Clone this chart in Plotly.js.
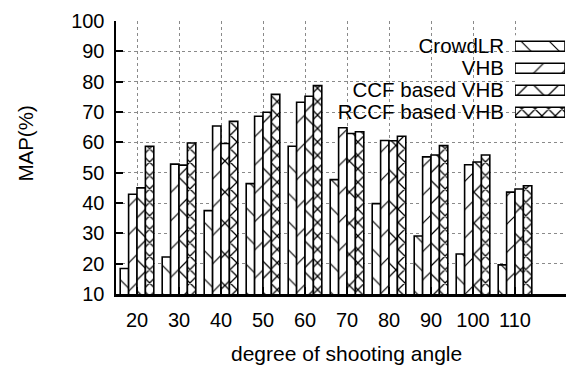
<!DOCTYPE html>
<html>
<head>
<meta charset="utf-8">
<script src="https://cdn.plot.ly/plotly-3.0.1.min.js"></script>
<style>html,body{margin:0;padding:0;background:#fff;}#chart{width:566px;height:370px;}</style>
</head>
<body>
<div id="chart"></div>
<script>
// Data
var angles = [20, 30, 40, 50, 60, 70, 80, 90, 100, 110];
var seriesNames = ["CrowdLR", "VHB", "CCF based VHB", "RCCF based VHB"];
var crowdLR = [18.4, 22.2, 37.5, 46.4, 58.7, 47.7, 39.8, 29.1, 23.2, 19.6];
var vhb     = [42.9, 52.8, 65.4, 68.6, 73.2, 64.8, 60.6, 55.2, 52.6, 43.6];
var ccfVhb  = [45.0, 52.5, 59.6, 69.9, 75.2, 62.9, 60.5, 55.8, 53.5, 44.6];
var rccfVhb = [58.7, 59.8, 66.9, 75.8, 78.7, 63.5, 62.0, 58.9, 55.8, 45.7];
var yTicks = [10, 20, 30, 40, 50, 60, 70, 80, 90, 100];
var xTitle = "degree of shooting angle";
var yTitle = "MAP(%)";

var seriesValues = [crowdLR, vhb, ccfVhb, rccfVhb];
var patShapes = ["\\", "/", "x", "x"];
var patSizes = [20, 20, 22, 9.5];
var patSolid = [0.06, 0.06, 0.11, 0.25];

var FONT = "Liberation Sans, Arial, Helvetica, sans-serif";

var traces = seriesValues.map(function (vals, i) {
  return {
    type: "bar",
    x: angles,
    y: vals,
    name: seriesNames[i],
    showlegend: false,
    marker: {
      color: "white",
      line: { color: "black", width: 1.6 },
      pattern: { shape: patShapes[i], size: patSizes[i], solidity: patSolid[i], fgcolor: "black", bgcolor: "white", fgopacity: 1 }
    },
    hoverinfo: "skip"
  };
});

// legend swatches drawn as a small horizontal bar chart
traces.push({
  type: "bar",
  orientation: "h",
  xaxis: "x3",
  yaxis: "y3",
  y: seriesNames,
  x: seriesNames.map(function () { return 1; }),
  width: 0.455,
  showlegend: false,
  hoverinfo: "skip",
  marker: {
    color: "white",
    line: { color: "black", width: 1.6 },
    pattern: { shape: patShapes, size: patSizes, solidity: patSolid, fgcolor: "black", bgcolor: "white", fgopacity: 1 }
  }
});

var layout = {
  width: 566,
  height: 370,
  margin: { l: 116, r: 0, t: 21, b: 76, pad: 0 },
  paper_bgcolor: "white",
  plot_bgcolor: "white",
  font: { family: FONT, size: 20, color: "black" },
  barmode: "group",
  bargap: 0.2,
  bargroupgap: 0,
  showlegend: false,
  xaxis: {
    range: [15, 122.14],
    tickvals: angles,
    ticktext: angles.map(String),
    ticks: "inside",
    ticklen: 7,
    tickwidth: 2,
    tickcolor: "black",
    showline: true,
    linecolor: "black",
    linewidth: 2.5,
    showgrid: true,
    gridcolor: "#8a8a8a",
    griddash: "dot",
    gridwidth: 1,
    zeroline: false,
    ticklabelstandoff: 6,
    tickfont: { family: FONT, size: 20, color: "black" },
    automargin: false,
    fixedrange: true
  },
  xaxis2: {
    overlaying: "x",
    side: "top",
    anchor: "y",
    range: [15, 122.14],
    tickvals: angles,
    ticks: "inside",
    ticklen: 7,
    tickwidth: 2,
    tickcolor: "black",
    showticklabels: false,
    showgrid: false,
    showline: false,
    zeroline: false
  },
  yaxis: {
    range: [10, 100],
    tickvals: yTicks,
    ticks: "inside",
    ticklen: 7,
    tickwidth: 2,
    tickcolor: "black",
    showline: true,
    linecolor: "black",
    linewidth: 2.5,
    showgrid: true,
    gridcolor: "#8a8a8a",
    griddash: "dot",
    gridwidth: 1,
    zeroline: false,
    ticklabelstandoff: 5,
    tickfont: { family: FONT, size: 20, color: "black" },
    automargin: false,
    fixedrange: true
  },
  xaxis3: {
    domain: [0.8867, 0.9978],
    anchor: "y3",
    range: [0, 1],
    visible: false,
    fixedrange: true
  },
  yaxis3: {
    domain: [0.6257, 0.9477],
    anchor: "x3",
    type: "category",
    categoryorder: "array",
    categoryarray: seriesNames,
    tickmode: "array",
    tickvals: seriesNames,
    ticktext: seriesNames,
    autorange: "reversed",
    showgrid: false,
    showline: false,
    zeroline: false,
    ticks: "",
    ticklabelstandoff: 10,
    tickfont: { family: FONT, size: 20.5, color: "black" },
    automargin: false,
    fixedrange: true
  },
  annotations: [{
    text: yTitle,
    xref: "paper", yref: "paper",
    x: -0.2, y: 0.551,
    xanchor: "center", yanchor: "middle",
    textangle: -90,
    showarrow: false,
    font: { family: FONT, size: 20.5, color: "black" }
  }, {
    text: xTitle,
    xref: "paper", yref: "paper",
    x: 0.513, y: -0.2195,
    xanchor: "center", yanchor: "middle",
    showarrow: false,
    font: { family: FONT, size: 21, color: "black" }
  }]
};

Plotly.newPlot("chart", traces, layout, { displayModeBar: false, staticPlot: true });
</script>
</body>
</html>
